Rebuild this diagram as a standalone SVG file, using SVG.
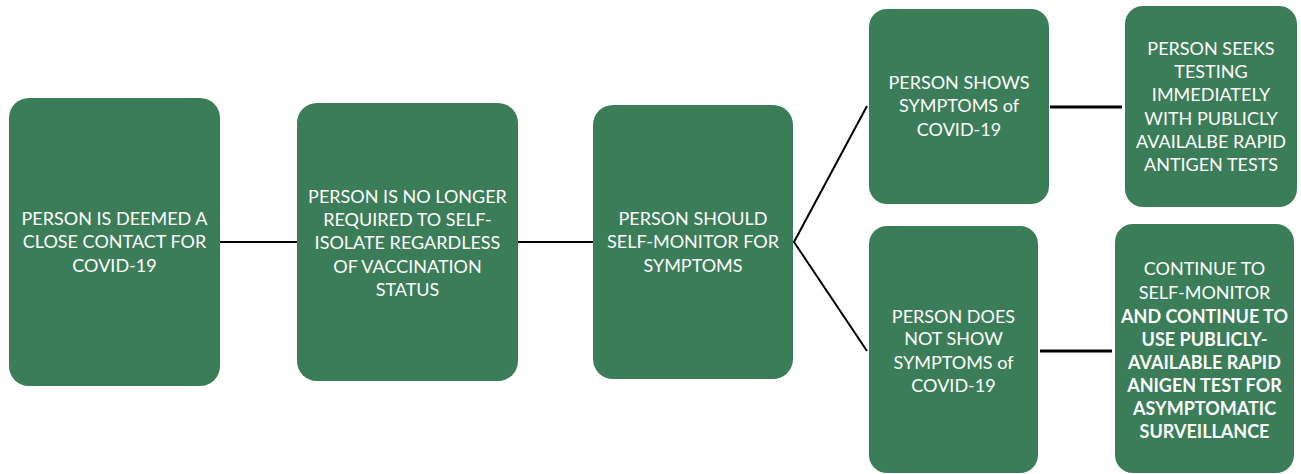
<svg xmlns="http://www.w3.org/2000/svg" width="1301" height="474" viewBox="0 0 1301 474">
<style>
.box{fill:#3b7d58;}
.t{font-family:Lato,"Open Sans","Liberation Sans",sans-serif;font-size:18px;fill:#ffffff;text-anchor:middle;}
.b{font-weight:bold;}
.c{stroke:#000;fill:none;stroke-width:2;}
.c3{stroke:#000;fill:none;stroke-width:3;}
</style>
<rect width="1301" height="474" fill="#fff"/>
<g id="connectors">
<line class="c" x1="220" y1="242" x2="297" y2="242"/>
<line class="c" x1="518" y1="242" x2="593" y2="242"/>
<polyline class="c" points="867,106 794,242 867,351"/>
<line class="c3" x1="1050" y1="107" x2="1122" y2="107"/>
<line class="c3" x1="1040" y1="351" x2="1112" y2="351"/>
</g>
<g id="n1">
<rect class="box" x="9" y="98" width="211" height="288" rx="20"/>
<text class="t" x="114.5"><tspan x="114.5" y="224.5">PERSON IS DEEMED A</tspan><tspan x="114.5" y="248">CLOSE CONTACT FOR</tspan><tspan x="114.5" y="271.5">COVID-19</tspan></text>
</g>
<g id="n2">
<rect class="box" x="297" y="103" width="221" height="278" rx="20"/>
<text class="t"><tspan x="407.5" y="202.5">PERSON IS NO LONGER</tspan><tspan x="407.5" y="226">REQUIRED TO SELF-</tspan><tspan x="407.5" y="249">ISOLATE REGARDLESS</tspan><tspan x="407.5" y="272.5">OF VACCINATION</tspan><tspan x="407.5" y="296">STATUS</tspan></text>
</g>
<g id="n3">
<rect class="box" x="593" y="105" width="200" height="274" rx="20"/>
<text class="t"><tspan x="693" y="224.5">PERSON SHOULD</tspan><tspan x="693" y="248">SELF-MONITOR FOR</tspan><tspan x="693" y="271.5">SYMPTOMS</tspan></text>
</g>
<g id="n4">
<rect class="box" x="869" y="9" width="180" height="195" rx="18"/>
<text class="t"><tspan x="959" y="88.5">PERSON SHOWS</tspan><tspan x="959" y="112">SYMPTOMS of</tspan><tspan x="959" y="135.5">COVID-19</tspan></text>
</g>
<g id="n5">
<rect class="box" x="1125" y="6" width="172" height="201" rx="18"/>
<text class="t"><tspan x="1211" y="54.5">PERSON SEEKS</tspan><tspan x="1211" y="78">TESTING</tspan><tspan x="1211" y="101">IMMEDIATELY</tspan><tspan x="1211" y="124.5">WITH PUBLICLY</tspan><tspan x="1211" y="148">AVAILALBE RAPID</tspan><tspan x="1211" y="171">ANTIGEN TESTS</tspan></text>
</g>
<g id="n6">
<rect class="box" x="869" y="226" width="169" height="247" rx="18"/>
<text class="t"><tspan x="953.5" y="322.5">PERSON DOES</tspan><tspan x="953.5" y="345">NOT SHOW</tspan><tspan x="953.5" y="368.5">SYMPTOMS of</tspan><tspan x="953.5" y="392">COVID-19</tspan></text>
</g>
<g id="n7">
<rect class="box" x="1115" y="224" width="179" height="249" rx="18"/>
<text class="t"><tspan x="1204.5" y="274.5">CONTINUE TO</tspan><tspan x="1204.5" y="299">SELF-MONITOR</tspan><tspan class="b" x="1204.5" y="322.5">AND CONTINUE TO</tspan><tspan class="b" x="1204.5" y="345.5">USE PUBLICLY-</tspan><tspan class="b" x="1204.5" y="368.5">AVAILABLE RAPID</tspan><tspan class="b" x="1204.5" y="391.5">ANIGEN TEST FOR</tspan><tspan class="b" x="1204.5" y="414.5">ASYMPTOMATIC</tspan><tspan class="b" x="1204.5" y="438">SURVEILLANCE</tspan></text>
</g>
</svg>
